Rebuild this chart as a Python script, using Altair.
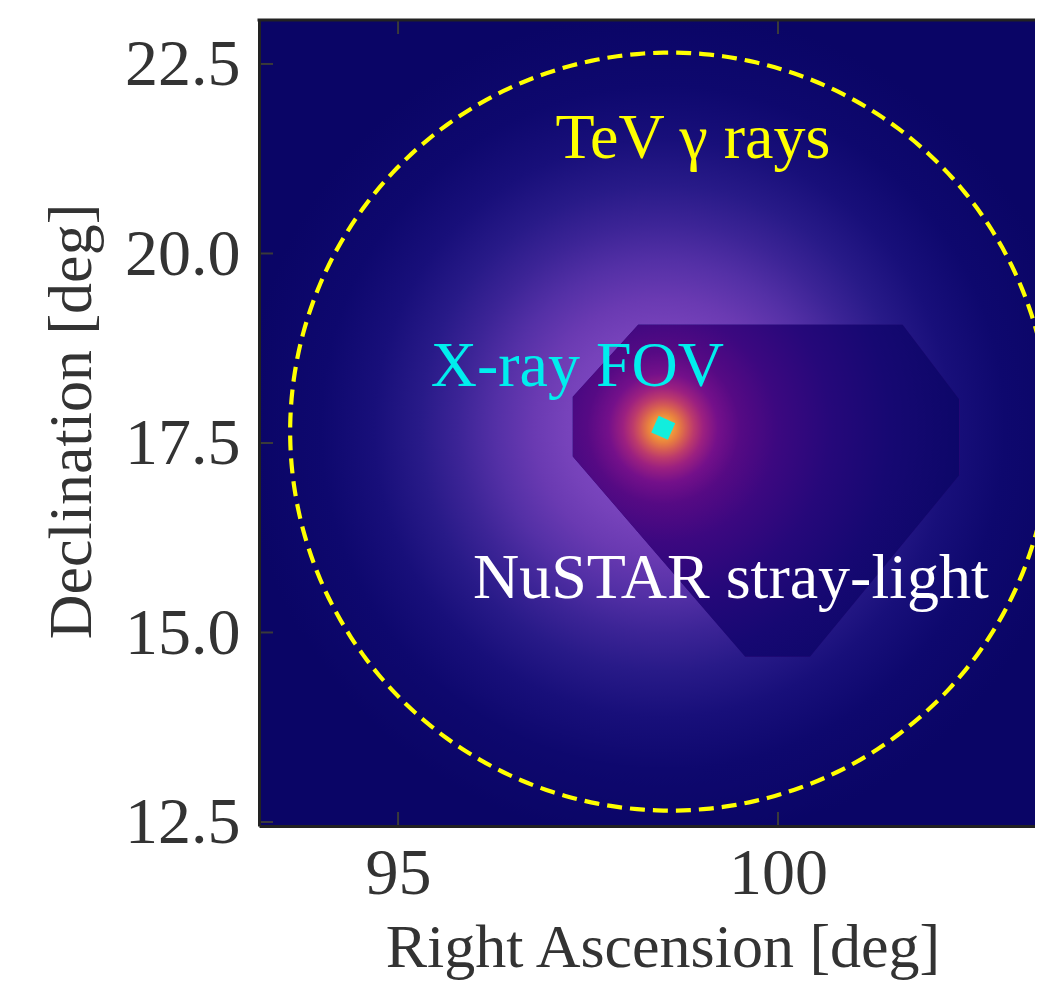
import altair as alt
import numpy as np
import pandas as pd

# ---------------- data ----------------
X_TICKS = [95, 100]
Y_TICKS = [12.5, 15.0, 17.5, 20.0, 22.5]
X_DOMAIN = [93.17, 103.79]
Y_DOMAIN = [12.447, 23.08]

SRC_RA = [98.49]          # X-ray FOV / bright source
SRC_DEC = [17.70]

CIRCLE_RA = 98.58         # TeV circle centre and radius [deg]
CIRCLE_DEC = 17.65
CIRCLE_R = 5.0

# NuSTAR stray-light polygon (upper and lower outline)
POLY_TOP_RA = [97.30, 98.16, 101.64, 102.39]
POLY_TOP_DEC = [18.11, 19.06, 19.06, 18.07]
POLY_BOT_RA = [97.30, 99.57, 100.42, 102.39]
POLY_BOT_DEC = [17.32, 14.68, 14.68, 17.08]

# radial colour profile of the TeV glow (distance from source, deg)
GLOW_R = [0.0, 1.0, 1.3, 1.7, 2.2, 2.7, 3.2, 3.8, 4.5, 5.5, 6.0]
GLOW_C = ["#8a50c8", "#7c46c0", "#7642ba", "#6a3ab2", "#5430a6", "#3c2496",
          "#281a88", "#180f7a", "#0e086e", "#0a0566", "#0a0566"]
GLOW_EXT = 6.0

# radial colour profile inside the stray-light region
CORE_R = [0.0, 0.1, 0.2, 0.3, 0.4, 0.53, 0.72, 1.0, 1.5, 2.2, 3.0, 4.0]
CORE_C = ["#f8c23a", "#f3a43a", "#e8803f", "#d45a55", "#bc3a6c", "#9c2080",
          "#74108a", "#560a84", "#3c0880", "#26087a", "#160872", "#0c0768"]
CORE_EXT = 4.0

LABEL_TEXT = ["TeV γ rays", "X-ray FOV", "NuSTAR stray-light"]
LABEL_RA = [98.88, 97.36, 99.38]
LABEL_DEC = [21.26, 18.25, 15.455]
LABEL_COLOR = ["#ffff00", "#00eeee", "#ffffff"]

# ---------------- layout ----------------
W, H = 807, 806
FONT = "Liberation Serif"
PXX = W / (X_DOMAIN[1] - X_DOMAIN[0])
PXY = H / (Y_DOMAIN[1] - Y_DOMAIN[0])

xscale = alt.Scale(domain=X_DOMAIN, nice=False, zero=False)
yscale = alt.Scale(domain=Y_DOMAIN, nice=False, zero=False)

xaxis = alt.Axis(values=X_TICKS, format="d", ticks=False, tickSize=0, grid=False,
                 domain=True, domainColor="#222222", domainWidth=3,
                 labelFont=FONT, labelFontSize=66, labelColor="#333333",
                 labelBaseline="alphabetic", labelPadding=67,
                 labelFlush=False, labelOverlap=False,
                 title="Right Ascension [deg]", titleFont=FONT, titleFontSize=62,
                 titleFontWeight="normal", titleColor="#333333",
                 titleX=W / 2, titleY=140, titleBaseline="alphabetic",
                 titleAlign="center", zindex=1)
yaxis = alt.Axis(values=Y_TICKS, format=".1f", ticks=False, tickSize=0, grid=False,
                 domain=True, domainColor="#222222", domainWidth=3,
                 labelFont=FONT, labelFontSize=66, labelColor="#333333",
                 labelBaseline="alphabetic", labelOffset=21, labelPadding=19,
                 labelFlush=False, labelOverlap=False,
                 title="Declination [deg]", titleFont=FONT, titleFontSize=62,
                 titleFontWeight="normal", titleColor="#333333",
                 titleAngle=270, titleX=-169, titleY=401,
                 titleBaseline="alphabetic", titleAlign="center", zindex=1)

X = alt.X("ra:Q", scale=xscale, axis=xaxis)
Y = alt.Y("dec:Q", scale=yscale, axis=yaxis)


def stops(rs, cs, ext):
    return [alt.GradientStop(offset=r / ext, color=c) for r, c in zip(rs, cs)]


# TeV glow: a square region centred on the source with a radial gradient
glow_df = pd.DataFrame({"ra": [SRC_RA[0] - GLOW_EXT], "ra2": [SRC_RA[0] + GLOW_EXT],
                        "dec": [SRC_DEC[0] - GLOW_EXT], "dec2": [SRC_DEC[0] + GLOW_EXT]})
glow = alt.Chart(glow_df).mark_rect(
    clip=True,
    color=alt.RadialGradient(gradient="radial", stops=stops(GLOW_R, GLOW_C, GLOW_EXT),
                             x1=0.5, y1=0.5, r1=0, x2=0.5, y2=0.5, r2=0.5),
).encode(x=X, x2="ra2:Q", y=Y, y2="dec2:Q")

# stray-light polygon, as an area between its upper and lower outline
xs = sorted(set(POLY_TOP_RA) | set(POLY_BOT_RA))
poly_df = pd.DataFrame({"ra": xs,
                        "dec": [float(v) for v in np.interp(xs, POLY_TOP_RA, POLY_TOP_DEC)],
                        "dec2": [float(v) for v in np.interp(xs, POLY_BOT_RA, POLY_BOT_DEC)]})
bx0, bx1 = min(xs), max(xs)
by0, by1 = min(POLY_BOT_DEC), max(POLY_TOP_DEC)
wpx, hpx = (bx1 - bx0) * PXX, (by1 - by0) * PXY
S = max(wpx, hpx)
fx = float(0.5 + (SRC_RA[0] - (bx0 + bx1) / 2) * PXX / S)
fy = float(0.5 - (SRC_DEC[0] - (by0 + by1) / 2) * PXY / S)

poly_base = alt.Chart(poly_df).mark_area(
    color="#2a0878", opacity=1, interpolate="linear"
).encode(x=X, y=Y, y2="dec2:Q")

poly = alt.Chart(poly_df).mark_area(
    color=alt.RadialGradient(gradient="radial", stops=stops(CORE_R, CORE_C, CORE_EXT),
                             x1=fx, y1=fy, r1=0, x2=fx, y2=fy,
                             r2=float(CORE_EXT * PXX / S)),
    opacity=1, interpolate="linear",
).encode(x=X, y=Y, y2="dec2:Q")

# dashed TeV circle
theta = np.arange(0, 361, 1)
circ_df = pd.DataFrame({"t": theta,
                        "ra": CIRCLE_RA + CIRCLE_R * np.cos(np.radians(theta)),
                        "dec": CIRCLE_DEC + CIRCLE_R * np.sin(np.radians(theta))})
circle = alt.Chart(circ_df).mark_line(
    clip=True, color="#ffff00", strokeWidth=4.2, strokeDash=[15, 8]
).encode(x=X, y=Y, order="t:Q")

# X-ray FOV square
src_df = pd.DataFrame({"ra": SRC_RA, "dec": SRC_DEC})
square = alt.Chart(src_df).mark_point(
    shape="square", filled=True, size=330, angle=24, color="#12eedd",
    opacity=1, strokeWidth=0
).encode(x=X, y=Y)

# annotations
lab_df = pd.DataFrame({"ra": LABEL_RA, "dec": LABEL_DEC, "text": LABEL_TEXT,
                       "color": LABEL_COLOR})
labels = alt.Chart(lab_df).mark_text(
    font=FONT, fontSize=64, align="center", baseline="alphabetic"
).encode(x=X, y=Y, text="text:N", color=alt.Color("color:N", scale=None))

# inward ticks
xt_df = pd.DataFrame({"ra": X_TICKS})
yt_df = pd.DataFrame({"dec": Y_TICKS})
tick_style = dict(color="#3a3a3a", strokeWidth=2)
tick_bottom = alt.Chart(xt_df).mark_rule(**tick_style).encode(
    x=X, y=alt.value(H - 14), y2=alt.value(H))
tick_top = alt.Chart(xt_df).mark_rule(**tick_style).encode(
    x=X, y=alt.value(0), y2=alt.value(14))
tick_left = alt.Chart(yt_df).mark_rule(**tick_style).encode(
    y=Y, x=alt.value(0), x2=alt.value(14))

# top frame line
top_line = alt.Chart(xt_df.head(1)).mark_rule(
    color="#222222", strokeWidth=3, strokeCap="square"
).encode(x=alt.value(0), x2=alt.value(W), y=alt.value(0))

chart = alt.layer(
    glow, poly_base, poly, circle, square, labels,
    tick_bottom, tick_top, tick_left, top_line
).properties(
    width=W, height=H,
    autosize=alt.AutoSizeParams(type="none"),
    padding={"left": 251, "top": 12, "right": -31, "bottom": 157},
    background="white",
).configure_view(stroke=None, fill="#0a0566")

chart.save("out.html", embed_options={"renderer": "svg", "actions": False})
